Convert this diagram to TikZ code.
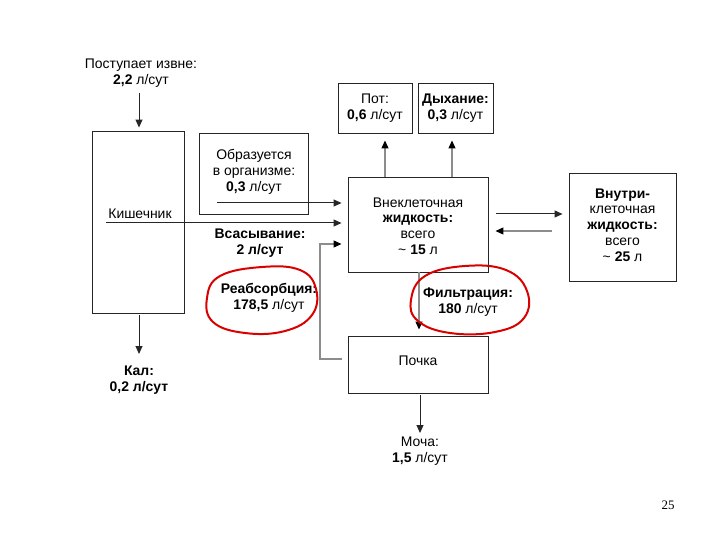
\documentclass[tikz,border=0pt]{standalone}
\usepackage{fontspec}
\setmainfont{Liberation Sans}
\newfontfamily\serifnum{Liberation Serif}
\usetikzlibrary{arrows.meta}
\begin{document}
\begin{tikzpicture}[x=1bp,y=-1bp,
  box/.style={draw=black!85,line width=0.9bp,inner sep=0pt},
  lbl/.style={align=center,inner sep=0pt,font=\fontsize{14}{15.8}\selectfont},
  arr/.style={draw=black!85,line width=1bp,-{Triangle[length=8bp,width=7bp]}},
  garr/.style={draw=black!45,line width=1.1bp,-{Triangle[length=8bp,width=7bp,black]}},
  ring/.style={draw=red!85!black,line width=2bp}]
\useasboundingbox (0,0) rectangle (720,540);
% boxes
\node[box,minimum width=92bp,minimum height=182bp] (kishbox) at (138,222) {};
\node[box,minimum width=109bp,minimum height=81bp] (obrbox) at (253.5,173.5) {};
\node[box,minimum width=74bp,minimum height=50bp] (potbox) at (375,108) {};
\node[box,minimum width=75bp,minimum height=50bp] (dyhbox) at (455.5,108) {};
\node[box,minimum width=140bp,minimum height=95bp] (ecfbox) at (418,224.5) {};
\node[box,minimum width=107bp,minimum height=108bp] (icfbox) at (622.5,227) {};
\node[box,minimum width=140bp,minimum height=57bp] (pochbox) at (418,364.5) {};
% texts
\node[lbl] (in1) at (141,73) {Поступает извне:\\\textbf{2,2} л/сут};
\node[lbl] (kish) at (140,214) {Кишечник};
\node[lbl] (obr) at (254,172) {Образуется\\в организме:\\\textbf{0,3} л/сут};
\node[lbl] (vsas) at (260,243) {\textbf{Всасывание:}\\\textbf{2 л/сут}};
\node[lbl] (reab) at (269,298) {\textbf{Реабсорбция:}\\\textbf{178,5} л/сут};
\node[lbl] (filt) at (468,302) {\textbf{Фильтрация:}\\\textbf{180} л/сут};
\node[lbl] (pot) at (375,108) {Пот:\\\textbf{0,6} л/сут};
\node[lbl] (dyh) at (455.5,108) {\textbf{Дыхание:}\\\textbf{0,3} л/сут};
\node[lbl] (ecf) at (418,226) {Внеклеточная\\\textbf{жидкость:}\\всего\\\textasciitilde{} \textbf{15} л};
\node[lbl] (icf) at (622.5,225) {\textbf{Внутри-}\\клеточная\\\textbf{жидкость:}\\всего\\\textasciitilde{} \textbf{25} л};
\node[lbl] (poch) at (418,361) {Почка};
\node[lbl] (kal) at (139,380) {\textbf{Кал:}\\\textbf{0,2 л/сут}};
\node[lbl] (mocha) at (420,451) {Моча:\\\textbf{1,5} л/сут};
\node[inner sep=0pt,font=\serifnum\fontsize{13}{14}\selectfont] (pg) at (668,505) {25};
% connector anchors
\coordinate (a1s) at (139,93);
\coordinate (kals) at (139,315);
\coordinate (kale) at (139,354);
\coordinate (mos) at (420,395);
\coordinate (moe) at (420,433);
\coordinate (pots) at (385,177);
\coordinate (dyhs) at (452,177);
\coordinate (obrs) at (217,203);
\coordinate (kishs) at (106,223);
\coordinate (reabs) at (342,359);
\coordinate (reabc1) at (320,359);
\coordinate (reabc2) at (320,244);
\coordinate (filts) at (419,272);
\coordinate (icfa) at (496,214);
\coordinate (icfb) at (552,231);
% connectors
\draw[arr,shorten >=3bp] (a1s) -- (a1s |- kishbox.north);
\draw[arr] (kals) -- (kale);
\draw[arr] (mos) -- (moe);
\draw[garr,shorten >=7bp] (pots) -- (pots |- potbox.south);
\draw[garr,shorten >=7bp] (dyhs) -- (dyhs |- dyhbox.south);
\draw[arr,shorten >=6bp] (obrs) -- (obrs -| ecfbox.west);
\draw[arr,shorten >=6bp] (kishs) -- (kishs -| ecfbox.west);
\draw[garr,shorten >=6bp] (reabs) -- (reabc1) -- (reabc2) -- (reabc2 -| ecfbox.west);
\draw[garr,shorten >=6bp] (filts) -- (filts |- pochbox.north);
\draw[arr,shorten >=6bp] (icfa) -- (icfa -| icfbox.west);
\draw[garr,shorten >=7bp] (icfb) -- (icfb -| ecfbox.east);
% red rings
\draw[ring] plot[smooth cycle,tension=0.7] coordinates {(262,267) (300,270) (316,289) (312,315) (285,331) (245,333) (213,322) (207,298) (220,276)};
\draw[ring] plot[smooth cycle,tension=0.7] coordinates {(465,266) (506,270) (527,291) (524,318) (495,332) (450,333) (418,321) (411,300) (425,276)};
\end{tikzpicture}
\end{document}
